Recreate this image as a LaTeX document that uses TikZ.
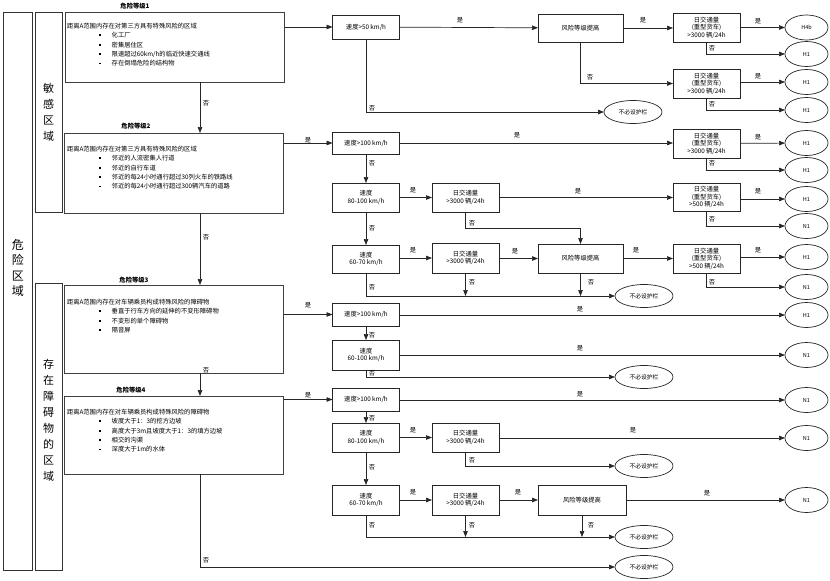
\documentclass[tikz,border=0pt]{standalone}
\usepackage{fontspec}
\setmainfont{Noto Sans CJK SC}
\usetikzlibrary{arrows.meta,shapes.geometric}
\newcommand\myitem{\hspace*{32pt}\raisebox{1.6pt}{\rule{1.7pt}{1.7pt}}\hspace{11pt}}
\tikzset{
  every node/.style={font=\fontsize{6.3}{7.6}\selectfont, inner sep=0pt, outer sep=0pt},
  bx/.style={draw=black!85, line width=0.8pt, align=center, minimum width=67pt},
  lvl/.style={draw=black!75, line width=0.8pt, minimum width=219pt},
  zonebox/.style={draw=black!80, line width=0.8pt},
  term/.style={ellipse, draw=black!85, line width=0.7pt, minimum width=43pt, minimum height=25pt, font=\fontsize{5.5}{6}\selectfont},
  nterm/.style={ellipse, draw=black!85, line width=0.7pt, minimum width=58pt, minimum height=23pt, font=\fontsize{5.8}{6}\selectfont},
  conn/.style={draw=black!85, line width=0.7pt},
  arr/.style={conn, -{Triangle[length=6pt,width=4.5pt]}},
  lab/.style={font=\fontsize{6.3}{7}\selectfont},
  ttl/.style={font=\bfseries\fontsize{6.3}{7}\selectfont},
  lst/.style={align=left, anchor=north west, font=\fontsize{6.3}{9.4}\selectfont}
}
\begin{document}
\begin{tikzpicture}[x=1pt,y=-1pt]
\useasboundingbox (0,0) rectangle (830,581);
\fill[white] (0,0) rectangle (830,581);
\coordinate (ax) at (200,0);
% zones
\node[zonebox, minimum width=29pt, minimum height=558pt] (zone) at (18,291) {};
\node[font=\fontsize{12}{15.5}\selectfont, align=center] at (18,268) {危\\险\\区\\域};
\node[zonebox, minimum width=27pt, minimum height=200pt] (sens) at (48.5,112) {};
\node[font=\fontsize{11}{16}\selectfont, align=center] at (48.5,112) {敏\\感\\区\\域};
\node[zonebox, minimum width=27pt, minimum height=287pt] (obst) at (48.5,426.5) {};
\node[font=\fontsize{11}{16}\selectfont, align=center] at (48.5,420) {存\\在\\障\\碍\\物\\的\\区\\域};
% level boxes
\node[lvl, minimum height=70pt] (L1) at (175,47) {};
\node[ttl] at (135,6) {危险等级1};
\node[lst] at (67,23) {距离A范围内存在对第三方具有特殊风险的区域\\
\myitem 化工厂\\ \myitem 密集居住区\\ \myitem 限速超过60km/h的临近快速交通线\\ \myitem 存在倒塌危险的结构物};
\node[lvl, minimum height=80pt] (L2) at (174,173) {};
\node[ttl] at (136,126) {危险等级2};
\node[lst] at (67,146) {距离A范围内存在对第三方具有特殊风险的区域\\
\myitem 邻近的人流密集人行道\\ \myitem 邻近的自行车道\\ \myitem 邻近的每24小时通行超过30列火车的铁路线\\ \myitem 邻近的每24小时通行超过300辆汽车的道路};
\node[lvl, minimum height=88pt] (L3) at (174,329) {};
\node[ttl] at (134,280) {危险等级3};
\node[lst] at (67,299) {距离A范围内存在对车辆乘员构成特殊风险的障碍物\\
\myitem 垂直于行车方向的延伸的不变形障碍物\\ \myitem 不变形的单个障碍物\\ \myitem 隔音屏};
\node[lvl, minimum height=78pt] (L4) at (174,435) {};
\node[ttl] at (131,390) {危险等级4};
\node[lst] at (67,409) {距离A范围内存在对车辆乘员构成特殊风险的障碍物\\
\myitem 坡度大于1：3的挖方边坡\\ \myitem 高度大于3m且坡度大于1：3的填方边坡\\ \myitem 相交的沟渠\\ \myitem 深度大于1m的水体};
% row 1
\node[bx, minimum height=24pt] (v1) at (366,27) {速度>50 km/h};
\node[bx, minimum width=85pt, minimum height=28pt] (r1) at (580.5,28) {风险等级提高};
\node[bx, minimum height=29pt] (t1a) at (706.5,27.5) {日交通量\\(重型货车)\\>3000 辆/24h};
\node[term] (e1a) at (806.5,27.5) {H4b};
\node[term] (e1b) at (806.5,54) {H1};
\node[bx, minimum height=29pt] (t1b) at (706.5,83.5) {日交通量\\(重型货车)\\>3000 辆/24h};
\node[term] (e1c) at (806.5,82) {H1};
\node[term] (e1d) at (806.5,110) {H1};
\node[nterm] (n1) at (633,112) {不必设护栏};
% row 2
\node[bx, minimum height=22pt] (v2a) at (366,143) {速度>100 km/h};
\node[bx, minimum height=29pt] (t2a) at (706.5,143.5) {日交通量\\(重型货车)\\>3000 辆/24h};
\node[term] (e2a) at (806.5,143) {H1};
\node[term] (e2b) at (806.5,170) {H1};
\node[bx, minimum height=29pt] (v2b) at (366,197.5) {速度\\80-100 km/h};
\node[bx, minimum height=29pt] (t2b) at (465.5,197.5) {日交通量\\>3000 辆/24h};
\node[bx, minimum height=28pt] (t2c) at (706.5,197) {日交通量\\(重型货车)\\>500 辆/24h};
\node[term] (e2c) at (806.5,199) {H1};
\node[term] (e2d) at (806.5,226) {N1};
\node[bx, minimum height=28pt] (v2c) at (366,259) {速度\\60-70 km/h};
\node[bx, minimum height=30pt] (t2d) at (465.5,258) {日交通量\\>3000 辆/24h};
\node[bx, minimum width=85pt, minimum height=29pt] (r2) at (580.5,258.5) {风险等级提高};
\node[bx, minimum height=29pt] (t2e) at (706.5,258.5) {日交通量\\(重型货车)\\>500 辆/24h};
\node[term] (e2e) at (806.5,257) {H1};
\node[term] (e2f) at (806.5,287) {N1};
\node[nterm] (n2) at (644,296) {不必设护栏};
% row 3
\node[bx, minimum height=23pt] (v3a) at (366,314.5) {速度>100 km/h};
\node[term] (e3a) at (806.5,315) {H1};
\node[bx, minimum height=30pt] (v3b) at (366,355) {速度\\60-100 km/h};
\node[term] (e3b) at (806.5,355) {N1};
\node[nterm] (n3) at (644,377) {不必设护栏};
% row 4
\node[bx, minimum height=23pt] (v4a) at (366,399.5) {速度>100 km/h};
\node[term] (e4a) at (806.5,400) {N1};
\node[bx, minimum height=29pt] (v4b) at (366,437.5) {速度\\80-100 km/h};
\node[bx, minimum height=29pt] (t4a) at (465.5,437.5) {日交通量\\>3000 辆/24h};
\node[term] (e4b) at (806.5,438) {N1};
\node[nterm] (n4a) at (644,466) {不必设护栏};
\node[bx, minimum height=30pt] (v4c) at (366,500) {速度\\60-70 km/h};
\node[bx, minimum height=30pt] (t4b) at (465.5,500) {日交通量\\>3000 辆/24h};
\node[bx, minimum width=88pt, minimum height=30pt] (r4) at (582,500) {风险等级提高};
\node[term] (e4c) at (806.5,500) {N1};
\node[nterm] (n4b) at (644,537) {不必设护栏};
\node[nterm] (n5) at (644,567) {不必设护栏};
% connectors: levels
\draw[arr] (L1.south -| ax) -- (L2.north -| ax);
\draw[arr] (L2.south -| ax) -- (L3.north -| ax);
\draw[arr] (L3.south -| ax) -- (L4.north -| ax);
\draw[arr] (L4.south -| ax) |- (n5.west);
\draw[arr] (v1.west -| L1.east) -- (v1.west);
\draw[arr] (v2a.west -| L2.east) -- (v2a.west);
\draw[arr] (v3a.west -| L3.east) -- (v3a.west);
\draw[arr] (v4a.west -| L4.east) -- (v4a.west);
% row 1
\draw[arr] (v1) -- (r1);
\draw[arr] (v1.south) |- (n1.west);
\draw[arr] (r1) -- (r1 -| t1a.west);
\draw[arr] (r1.south) |- (t1b.west);
\draw[arr] (t1a) -- (e1a);
\draw[arr] (t1a.south) |- (e1b.west);
\draw[arr] (t1b.east |- e1c) -- (e1c.west);
\draw[arr] (t1b.south) |- (e1d.west);
% row 2
\draw[arr] (v2a) -- (v2a -| t2a.west);
\draw[arr] (v2a.south) -- (v2b.north);
\draw[arr] (t2a) -- (e2a);
\draw[arr] (t2a.south) |- (e2b.west);
\draw[arr] (v2b) -- (t2b);
\draw[arr] (t2b) -- (t2b -| t2c.west);
\draw[arr] (t2b.south) -- ++(0,16) -| (r2.north);
\draw[arr] (t2c.east |- e2c) -- (e2c.west);
\draw[arr] (t2c.south) |- (e2d.west);
\draw[arr] (v2b.south) -- (v2c.north);
\draw[arr] (v2c.east |- t2d) -- (t2d.west);
\draw[arr] (t2d.east |- r2) -- (r2.west);
\draw[arr] (r2) -- (t2e);
\draw[arr] (t2e.east |- e2e) -- (e2e.west);
\draw[arr] (t2e.south) |- (e2f.west);
\draw[arr] (v2c.south) |- (n2.west);
\draw[arr] (t2d.south) -- (t2d.south |- n2.west);
\draw[arr] (r2.south) -- (r2.south |- n2.west);
% row 3
\draw[arr] (v3a.east |- e3a) -- (e3a.west);
\draw[arr] (v3a.south) -- (v3b.north);
\draw[arr] (v3b) -- (e3b);
\draw[arr] (v3b.south) |- (n3.west);
% row 4
\draw[arr] (v4a.east |- e4a) -- (e4a.west);
\draw[arr] (v4a.south) -- (v4b.north);
\draw[arr] (v4b) -- (t4a);
\draw[arr] (t4a.east |- e4b) -- (e4b.west);
\draw[arr] (t4a.south) |- (n4a.west);
\draw[arr] (v4b.south) -- (v4c.north);
\draw[arr] (v4c) -- (t4b);
\draw[arr] (t4b) -- (r4);
\draw[arr] (r4) -- (e4c);
\draw[arr] (v4c.south) |- (n4b.west);
\draw[arr] (t4b.south) -- (t4b.south |- n4b.west);
\draw[arr] (r4.south) -- (r4.south |- n4b.west);
% labels
\foreach \p in {(460,20),(643,20),(758,21),(758,76),(308,140),(517,135),(758,137),(413,190),(578,191),(758,191),(413,250),(515,251),(636,250),(758,250),(308,305),(580,309),(580,348),(308,395),(580,394),(413,430),(633,430),(413,492),(518,492),(707,493)}
  \node[lab] at \p {是};
\foreach \p in {(372,108),(590,77),(712,48),(712,104),(206,103),(372,163),(712,163),(472,223),(712,219),(372,228),(712,282),(372,287),(472,282),(591,282),(206,237),(372,335),(372,373),(206,370),(372,418),(472,460),(372,467),(372,525),(472,525),(591,525),(206,560)}
  \node[lab] at \p {否};
\end{tikzpicture}
\end{document}
